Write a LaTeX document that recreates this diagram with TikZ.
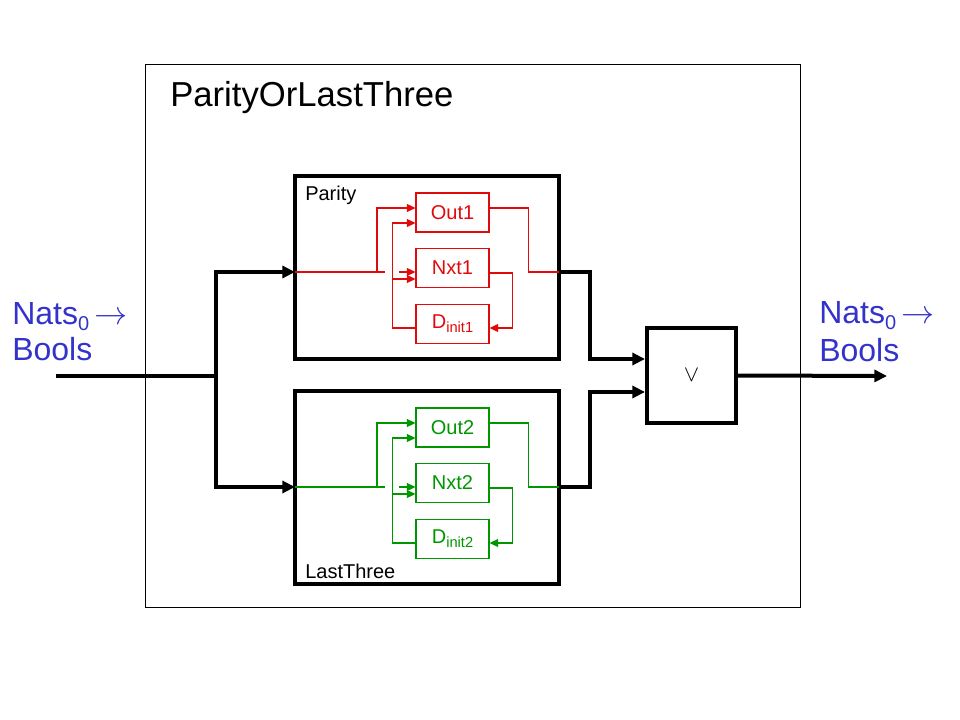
\documentclass[tikz,border=0pt]{standalone}
\usepackage{fontspec}
\setmainfont{Liberation Sans}
\usetikzlibrary{arrows.meta,calc}
\definecolor{nblue}{RGB}{51,51,204}
\definecolor{pred}{RGB}{225,10,10}
\definecolor{pgreen}{RGB}{0,150,0}
\tikzset{
  frame/.style={draw, line width=0.75pt, inner sep=0pt},
  bigbox/.style={draw, line width=3pt, inner sep=0pt, minimum width=198pt},
  inbox/.style={draw, line width=0.8pt, inner sep=0pt, minimum width=54.75pt, minimum height=29.25pt, font=\fontsize{15}{15}\selectfont},
  wire/.style={line width=0.9pt},
  thin tip/.style={-{Triangle[length=6.5pt,width=6pt]}},
  heavy/.style={line width=3pt, line join=miter},
  heavy tip/.style={-{Triangle[length=9.5pt,width=9pt]}},
  lbl/.style={anchor=base west, inner sep=0pt},
  bluelbl/.style={lbl, text=nblue, font=\fontsize{24}{24}\selectfont},
}
\begin{document}
\begin{tikzpicture}[x=0.75pt,y=-0.75pt]
\useasboundingbox (0,0) rectangle (960,720);
% outer frame
\node[frame, minimum width=491.25pt, minimum height=406.5pt] (outer) at (472.5,336) {};
\node[lbl, font=\fontsize{26}{26}\selectfont] (title) at (170,107) {ParityOrLastThree};
% sub-blocks
\node[bigbox, minimum height=137.25pt] (parity) at (427,267.5) {};
\node[bigbox, minimum height=144.75pt] (last) at (427,487.5) {};
\node[lbl, font=\fontsize{15}{15}\selectfont] (paritylbl) at (305,201) {Parity};
\node[lbl, font=\fontsize{15}{15}\selectfont] (lastlbl) at (305,578) {LastThree};
% OR block
\node[draw, line width=3pt, inner sep=0pt, minimum width=66.75pt, minimum height=71.25pt, font=\fontsize{16}{16}\selectfont] (or) at (691.5,375.5) {$\vee$};
% inner machines
\foreach \n/\c/\off in {1/pred/0,2/pgreen/215}{
  \node[inbox, draw=\c, text=\c] (out\n) at (452.5,{212.5+\off}) {Out\n};
  \node[inbox, draw=\c, text=\c] (nxt\n) at (452.5,{268+\off}) {Nxt\n};
  \node[inbox, draw=\c, text=\c] (dinit\n) at (452.5,{324+\off}) {D\raisebox{-3pt}{\fontsize{11}{11}\selectfont init\n}};
  \coordinate (in\n) at (295,{272+\off});
  \coordinate (outp\n) at (559,{272+\off});
  \coordinate (j\n) at (377,{272+\off});
  \draw[wire, \c, thin tip] (in\n) -- (j\n) |- ($(out\n.west)+(0,-4.5)$);
  \draw[wire, \c] (j\n) -- ++(8,0);
  \draw[wire, \c, thin tip] ($(nxt\n.west)+(-16,4)$) -- ($(nxt\n.west)+(0,4)$);
  \draw[wire, \c, thin tip] ($(dinit\n.west)+(0,4)$) -- ++(-23,0) |- ($(out\n.west)+(0,10.5)$);
  \draw[wire, \c, thin tip] ($(nxt\n.west)+(-23,11)$) -- ($(nxt\n.west)+(0,11)$);
  \draw[wire, \c, thin tip] ($(nxt\n.east)+(0,5)$) -- ++(23,0) |- ($(dinit\n.east)+(0,4)$);
  \draw[wire, \c] ($(out\n.east)+(0,-4.5)$) -- ++(39,0) |- (outp\n);
}
% outer wiring
\coordinate (src) at (56,376);
\coordinate (fork) at (216,376);
\coordinate (dst) at (887,376);
\draw[heavy] (src) -- (fork);
\draw[heavy, heavy tip] (fork) |- (in1);
\draw[heavy, heavy tip] (fork) |- (in2);
\draw[heavy, heavy tip] (outp1) -| ($(or.west)+(-55,-16.5)$) -- ($(or.west)+(0,-16.5)$);
\draw[heavy, heavy tip] (outp2) -| ($(or.west)+(-55,16.5)$) -- ($(or.west)+(0,16.5)$);
\draw[heavy, heavy tip] (or.east) -- (dst);
% type labels
\node[bluelbl] (natsL) at (12,325) {Nats\raisebox{-4.5pt}{\fontsize{15}{15}\selectfont 0}\hspace{4pt}$\rightarrow$};
\node[bluelbl] (boolsL) at (12,360) {Bools};
\node[bluelbl] (natsR) at (819,324) {Nats\raisebox{-4.5pt}{\fontsize{15}{15}\selectfont 0}\hspace{4pt}$\rightarrow$};
\node[bluelbl] (boolsR) at (819,361) {Bools};
\end{tikzpicture}
\end{document}
